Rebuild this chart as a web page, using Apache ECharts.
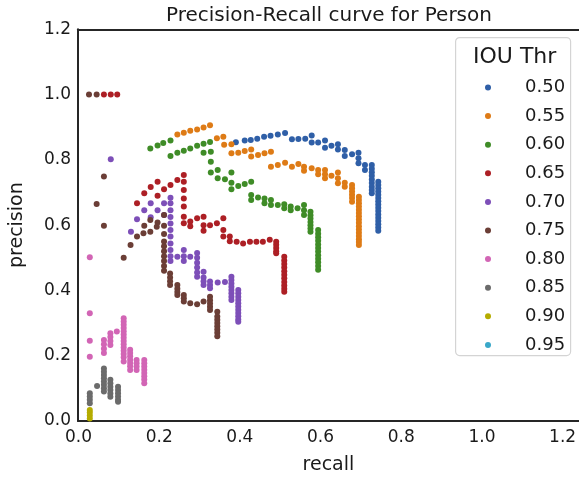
<!DOCTYPE html>
<html>
<head>
<meta charset="utf-8">
<script src="https://cdn.jsdelivr.net/npm/echarts@6/dist/echarts.min.js"></script>
<style>
  html, body { margin: 0; padding: 0; background: #fff; }
  #chart { width: 579px; height: 481px; }
</style>
</head>
<body>
<div id="chart"></div>
<script>
// IOU thresholds shown in the legend
const thresholds = ["0.50", "0.55", "0.60", "0.65", "0.70", "0.75", "0.80", "0.85", "0.90", "0.95"];
const colors = ["#2f5fa7", "#de7b16", "#3f8c27", "#ad1f25", "#7d4fb8", "#6b3e36", "#d265b5", "#6b6b6b", "#b5ac00", "#3aa8c9"];
const xTicks = [0, 0.2, 0.4, 0.6, 0.8, 1.0, 1.2];

// [recall, precision] points
const pr050 = [
  [0.390, 0.854], [0.412, 0.859], [0.427, 0.861], [0.443, 0.865], [0.460, 0.871], [0.476, 0.874],
  [0.494, 0.878], [0.512, 0.882], [0.529, 0.863], [0.545, 0.864], [0.562, 0.865], [0.578, 0.875],
  [0.578, 0.853], [0.594, 0.853], [0.611, 0.859], [0.611, 0.837], [0.627, 0.843], [0.643, 0.848],
  [0.643, 0.832], [0.660, 0.830], [0.660, 0.812], [0.678, 0.817], [0.694, 0.822], [0.694, 0.805],
  [0.694, 0.790], [0.710, 0.784], [0.710, 0.769],
  [0.727, 0.784], [0.727, 0.773], [0.727, 0.762], [0.727, 0.751], [0.727, 0.740], [0.727, 0.729],
  [0.727, 0.718], [0.727, 0.708], [0.727, 0.698],
  [0.743, 0.733], [0.743, 0.723], [0.743, 0.713], [0.743, 0.703], [0.743, 0.693], [0.743, 0.683],
  [0.743, 0.673], [0.743, 0.663], [0.743, 0.653], [0.743, 0.643], [0.743, 0.633], [0.743, 0.623],
  [0.743, 0.613], [0.743, 0.603], [0.743, 0.593], [0.743, 0.583]
];
const pr055 = [
  [0.245, 0.878], [0.261, 0.883], [0.277, 0.889], [0.294, 0.893], [0.310, 0.899], [0.326, 0.906],
  [0.343, 0.866], [0.359, 0.871], [0.361, 0.846], [0.379, 0.848], [0.379, 0.820], [0.396, 0.822],
  [0.412, 0.827], [0.428, 0.832], [0.428, 0.810], [0.445, 0.815], [0.461, 0.820], [0.477, 0.825],
  [0.477, 0.779], [0.494, 0.784], [0.512, 0.791], [0.529, 0.779], [0.545, 0.787], [0.559, 0.779],
  [0.559, 0.767], [0.578, 0.774], [0.594, 0.769], [0.594, 0.756], [0.611, 0.769], [0.611, 0.756],
  [0.611, 0.744], [0.627, 0.751], [0.643, 0.761], [0.643, 0.744], [0.643, 0.728], [0.660, 0.730],
  [0.660, 0.718],
  [0.678, 0.723], [0.678, 0.713], [0.678, 0.703], [0.678, 0.693], [0.678, 0.683], [0.678, 0.672],
  [0.695, 0.687], [0.695, 0.677], [0.695, 0.667], [0.695, 0.657], [0.695, 0.647], [0.695, 0.637],
  [0.695, 0.627], [0.695, 0.617], [0.695, 0.607], [0.695, 0.597], [0.695, 0.587], [0.695, 0.577],
  [0.695, 0.567], [0.695, 0.557], [0.695, 0.548], [0.695, 0.539]
];
const pr060 = [
  [0.178, 0.835], [0.196, 0.844], [0.210, 0.852], [0.228, 0.859],
  [0.228, 0.812], [0.245, 0.822], [0.261, 0.828], [0.277, 0.835], [0.294, 0.843], [0.310, 0.849],
  [0.326, 0.855], [0.310, 0.822], [0.328, 0.825], [0.328, 0.794], [0.328, 0.761], [0.345, 0.769],
  [0.345, 0.744], [0.363, 0.741], [0.379, 0.761], [0.379, 0.730], [0.379, 0.710], [0.396, 0.720],
  [0.412, 0.726], [0.428, 0.733], [0.428, 0.692], [0.428, 0.677], [0.445, 0.685], [0.461, 0.682],
  [0.461, 0.667], [0.477, 0.677], [0.477, 0.662], [0.494, 0.662], [0.510, 0.664], [0.510, 0.652],
  [0.526, 0.657], [0.526, 0.646], [0.543, 0.652], [0.559, 0.662], [0.559, 0.646], [0.559, 0.631],
  [0.575, 0.641], [0.575, 0.630], [0.575, 0.620], [0.575, 0.610], [0.575, 0.600], [0.575, 0.590],
  [0.575, 0.580],
  [0.594, 0.585], [0.594, 0.574], [0.594, 0.563], [0.594, 0.552], [0.594, 0.541], [0.594, 0.530],
  [0.594, 0.519], [0.594, 0.508], [0.594, 0.497], [0.594, 0.486], [0.594, 0.475], [0.594, 0.463]
];
const pr065 = [
  [0.063, 1.0], [0.080, 1.0], [0.096, 1.0],
  [0.145, 0.667], [0.163, 0.698], [0.179, 0.717], [0.196, 0.733], [0.212, 0.710], [0.228, 0.723],
  [0.245, 0.738], [0.196, 0.690],
  [0.261, 0.754], [0.261, 0.733], [0.261, 0.708], [0.261, 0.682], [0.261, 0.657], [0.261, 0.626],
  [0.261, 0.606],
  [0.277, 0.611], [0.277, 0.597], [0.294, 0.621], [0.310, 0.626], [0.310, 0.600], [0.310, 0.583],
  [0.326, 0.600], [0.343, 0.606], [0.359, 0.621], [0.359, 0.585], [0.359, 0.565], [0.375, 0.565],
  [0.375, 0.551], [0.392, 0.549], [0.408, 0.544], [0.425, 0.549], [0.441, 0.549], [0.457, 0.549],
  [0.474, 0.555],
  [0.490, 0.549], [0.490, 0.540], [0.490, 0.530], [0.490, 0.520], [0.490, 0.514],
  [0.510, 0.503], [0.510, 0.492], [0.510, 0.481], [0.510, 0.470], [0.510, 0.459], [0.510, 0.448],
  [0.510, 0.437], [0.510, 0.426], [0.510, 0.415], [0.510, 0.405], [0.510, 0.396]
];
const pr070 = [
  [0.080, 0.802], [0.130, 0.580], [0.145, 0.618], [0.163, 0.646], [0.179, 0.667], [0.179, 0.624],
  [0.196, 0.646], [0.212, 0.667], [0.212, 0.631],
  [0.228, 0.684], [0.228, 0.667], [0.228, 0.646], [0.228, 0.625], [0.228, 0.605], [0.228, 0.585],
  [0.228, 0.565], [0.228, 0.544], [0.228, 0.524], [0.228, 0.505], [0.228, 0.490],
  [0.245, 0.503], [0.261, 0.524], [0.261, 0.505], [0.261, 0.490], [0.277, 0.503],
  [0.294, 0.515], [0.294, 0.500], [0.294, 0.485], [0.294, 0.470], [0.294, 0.455], [0.294, 0.442],
  [0.310, 0.457], [0.310, 0.440], [0.310, 0.428], [0.310, 0.417],
  [0.326, 0.427], [0.326, 0.417], [0.326, 0.407], [0.345, 0.424], [0.363, 0.426],
  [0.379, 0.442], [0.379, 0.432], [0.379, 0.421], [0.379, 0.411], [0.379, 0.401], [0.379, 0.391],
  [0.379, 0.381], [0.379, 0.371],
  [0.396, 0.401], [0.396, 0.391], [0.396, 0.381], [0.396, 0.371], [0.396, 0.361], [0.396, 0.351],
  [0.396, 0.341], [0.396, 0.331], [0.396, 0.321], [0.396, 0.311], [0.396, 0.304]
];
const pr075 = [
  [0.026, 1.0], [0.045, 1.0], [0.063, 0.749], [0.045, 0.665], [0.063, 0.598], [0.112, 0.500],
  [0.129, 0.539], [0.145, 0.565], [0.161, 0.575], [0.163, 0.598], [0.178, 0.580], [0.178, 0.616],
  [0.194, 0.595], [0.196, 0.608], [0.212, 0.631], [0.212, 0.598], [0.212, 0.573],
  [0.212, 0.550], [0.212, 0.535], [0.212, 0.520], [0.212, 0.505], [0.212, 0.490], [0.212, 0.475],
  [0.212, 0.460],
  [0.227, 0.452], [0.227, 0.440], [0.227, 0.428], [0.227, 0.417],
  [0.245, 0.417], [0.245, 0.405], [0.245, 0.395], [0.245, 0.386],
  [0.261, 0.386], [0.261, 0.376], [0.261, 0.366],
  [0.277, 0.361], [0.294, 0.358], [0.310, 0.366],
  [0.326, 0.381], [0.326, 0.370], [0.326, 0.360], [0.326, 0.350], [0.326, 0.340],
  [0.344, 0.335], [0.344, 0.320], [0.344, 0.310], [0.344, 0.300], [0.344, 0.290], [0.344, 0.280],
  [0.344, 0.270], [0.344, 0.260]
];
const pr080 = [
  [0.028, 0.502], [0.028, 0.330], [0.028, 0.246], [0.028, 0.197],
  [0.063, 0.248], [0.063, 0.235], [0.063, 0.221], [0.063, 0.208],
  [0.079, 0.269], [0.079, 0.257], [0.079, 0.245], [0.079, 0.233],
  [0.095, 0.274],
  [0.112, 0.315], [0.112, 0.305], [0.112, 0.295], [0.112, 0.285], [0.112, 0.275], [0.112, 0.265],
  [0.112, 0.255], [0.112, 0.245], [0.112, 0.235], [0.112, 0.225], [0.112, 0.215], [0.112, 0.205],
  [0.112, 0.195], [0.112, 0.182],
  [0.128, 0.218], [0.128, 0.208], [0.128, 0.198], [0.128, 0.188], [0.128, 0.178], [0.128, 0.168],
  [0.128, 0.156],
  [0.144, 0.187], [0.144, 0.177], [0.144, 0.167], [0.144, 0.156],
  [0.163, 0.187], [0.163, 0.177], [0.163, 0.167], [0.163, 0.157], [0.163, 0.147], [0.163, 0.137],
  [0.163, 0.127], [0.163, 0.116]
];
const pr085 = [
  [0.028, 0.085], [0.028, 0.075], [0.028, 0.065], [0.028, 0.054],
  [0.046, 0.107],
  [0.063, 0.161], [0.063, 0.151], [0.063, 0.141], [0.063, 0.131], [0.063, 0.121], [0.063, 0.111],
  [0.063, 0.100], [0.063, 0.090],
  [0.079, 0.126], [0.079, 0.116], [0.079, 0.105], [0.079, 0.095], [0.079, 0.084], [0.079, 0.074],
  [0.098, 0.105], [0.098, 0.095], [0.098, 0.085], [0.098, 0.075], [0.098, 0.065], [0.098, 0.059]
];
const pr090 = [[0.028, 0.034], [0.028, 0.026], [0.028, 0.017], [0.028, 0.008]];
const pr095 = [];

const seriesPoints = [pr050, pr055, pr060, pr065, pr070, pr075, pr080, pr085, pr090, pr095];

const chart = echarts.init(document.getElementById("chart"));
const font = "DejaVu Sans";
const ink = "#1a1a1a";
const spine = { show: true, lineStyle: { color: "#262626", width: 2 } };

const option = {
  animation: false,
  color: colors,
  textStyle: { fontFamily: font },
  title: {
    text: "Precision-Recall curve for Person",
    left: 161,
    top: 1,
    textStyle: { fontFamily: font, fontSize: 20, fontWeight: "normal", color: ink },
  },
  grid: [
    { left: 73.5, right: 0, top: 29.3, bottom: 60 },
    // second grid only draws the spines, starting at the left spine
    { left: 78, right: 0, top: 29.3, bottom: 60 },
  ],
  legend: {
    data: thresholds,
    orient: "vertical",
    left: 480,
    top: 72.5,
    icon: "circle",
    itemWidth: 6,
    itemHeight: 6,
    itemGap: 8.6,
    selectedMode: false,
    textStyle: { fontFamily: font, fontSize: 18, color: ink, lineHeight: 20, padding: [0, 0, 0, 29] },
    z: 10,
  },
  graphic: [
    {
      type: "rect",
      left: 455,
      top: 37,
      shape: { width: 115, height: 318, r: 4 },
      style: { fill: "#fff", stroke: "#d4d4d4", lineWidth: 1.2 },
      z: 5,
    },
    {
      type: "text",
      left: 473,
      top: 46,
      style: { text: "IOU Thr", fontFamily: font, fontSize: 22, fill: ink },
      z: 6,
    },
  ],
  xAxis: [
    {
      type: "value",
      gridIndex: 0,
      min: 0,
      max: 1.239,
      interval: 0.2,
      name: "recall",
      nameLocation: "middle",
      nameGap: 35,
      nameTextStyle: { fontFamily: font, fontSize: 19, color: ink },
      axisLine: { show: false },
      axisTick: { show: false },
      splitLine: { show: false },
      axisLabel: {
        showMaxLabel: false,
        margin: 8,
        fontFamily: font,
        fontSize: 17,
        color: ink,
        formatter: (v) => (xTicks.some((t) => Math.abs(t - v) < 1e-6) ? v.toFixed(1) : ""),
      },
    },
    {
      type: "value", gridIndex: 1, min: 0, max: 1, position: "bottom",
      axisLine: spine, axisTick: { show: false }, axisLabel: { show: false }, splitLine: { show: false },
    },
    {
      type: "value", gridIndex: 1, min: 0, max: 1, position: "top",
      axisLine: spine, axisTick: { show: false }, axisLabel: { show: false }, splitLine: { show: false },
    },
  ],
  yAxis: [
    {
      type: "value",
      gridIndex: 0,
      min: 0,
      max: 1.2,
      interval: 0.2,
      offset: -4.5,
      name: "precision",
      nameLocation: "middle",
      nameGap: 56,
      nameTextStyle: { fontFamily: font, fontSize: 19, color: ink },
      axisLine: { show: false },
      axisTick: { show: false },
      splitLine: { show: false },
      axisLabel: { margin: 12, fontFamily: font, fontSize: 17, color: ink, formatter: (v) => v.toFixed(1) },
    },
    {
      type: "value", gridIndex: 1, min: 0, max: 1, position: "left",
      axisLine: spine, axisTick: { show: false }, axisLabel: { show: false }, splitLine: { show: false },
    },
  ],
  series: [],
};

thresholds.forEach((name, i) => {
  option.series.push({
    name: name,
    type: "scatter",
    xAxisIndex: 0,
    yAxisIndex: 0,
    symbol: "circle",
    symbolSize: 6,
    itemStyle: { color: colors[i], opacity: 1 },
    emphasis: { disabled: true },
    data: seriesPoints[i],
  });
});

option && chart.setOption(option);
</script>
</body>
</html>
